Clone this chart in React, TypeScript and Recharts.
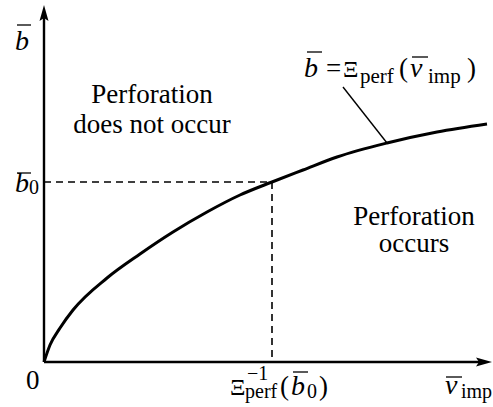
import { LineChart, Line, XAxis, YAxis, ReferenceLine, ReferenceDot } from "recharts";

// curve b = Xi_perf(v_imp) (1 unit ~ 1px)
const vImp = [0, 6, 16, 29, 63, 96, 129, 163, 196, 228, 259, 293, 343, 393, 443];
const bPerf = [0, 17, 34, 52, 84, 108, 130, 150, 167, 180, 192, 205, 219, 230, 238];

const vMax = 448;
const bMax = 357;
const b0 = 180;
const v0 = 228;
const leaderFrom = { x: 299, y: 275 };
const leaderTo = { x: 343, y: 219 };
const regionNoPerf = { x: 108, y: 259, lines: ["Perforation", "does not occur"] };
const regionPerf = { x: 370, y: 137, lines: ["Perforation", "occurs"] };

const data = vImp.map((v, i) => ({ v, b: bPerf[i] }));

const FONT = "Liberation Serif";
const INK = "#000";

const serifRef = (el: SVGTextElement | null) => {
  if (el) el.style.setProperty("font-family", FONT, "important");
};

const ArrowAxis = (props: any) => {
  const { x1, y1, x2, y2 } = props;
  const dx = x2 - x1;
  const dy = y2 - y1;
  const len = Math.hypot(dx, dy) || 1;
  const ux = dx / len;
  const uy = dy / len;
  const head = 16;
  const half = 4.5;
  const bx = x2 - ux * head;
  const by = y2 - uy * head;
  return (
    <g>
      <line x1={x1} y1={y1} x2={bx + ux * 3} y2={by + uy * 3} stroke={INK} strokeWidth={2.4} />
      <polygon
        points={`${x2},${y2} ${bx - uy * half},${by + ux * half} ${bx + ux * 3},${by + uy * 3} ${bx + uy * half},${by - ux * half}`}
        fill={INK}
      />
    </g>
  );
};

const T = ({ x, y, size = 27, italic = false, children }: any) => (
  <text
    ref={serifRef}
    x={x}
    y={y}
    fill={INK}
    fontFamily={FONT}
    fontSize={size}
    fontStyle={italic ? "italic" : "normal"}
  >
    {children}
  </text>
);

const Bar = ({ x1, x2, y }: any) => <line x1={x1} x2={x2} y1={y} y2={y} stroke={INK} strokeWidth={1.3} />;

const YTopLabel = ({ cx, cy }: any) => (
  <g>
    <T x={cx - 29} y={cy + 45} size={28} italic>b</T>
    <Bar x1={cx - 27} x2={cx - 13} y={cy + 20} />
  </g>
);

const B0Label = ({ cx, cy }: any) => (
  <g>
    <T x={cx - 29} y={cy + 10} size={28} italic>b</T>
    <Bar x1={cx - 27} x2={cx - 13} y={cy - 9} />
    <T x={cx - 15} y={cy + 12} size={20}>0</T>
  </g>
);

const OriginLabel = ({ cx, cy }: any) => (
  <T x={cx - 18} y={cy + 27}>0</T>
);

const XiInvLabel = ({ cx, cy }: any) => (
  <g>
    <T x={cx - 42} y={cy + 33} size={24}>Ξ</T>
    <T x={cx - 25} y={cy + 18} size={20}>−1</T>
    <T x={cx - 27} y={cy + 36} size={20}>perf</T>
    <T x={cx + 8} y={cy + 33}>(</T>
    <T x={cx + 19} y={cy + 33} size={28} italic>b</T>
    <Bar x1={cx + 21} x2={cx + 36} y={cy + 10} />
    <T x={cx + 35} y={cy + 36} size={20}>0</T>
    <T x={cx + 47} y={cy + 33}>)</T>
  </g>
);

const VImpLabel = ({ cx, cy }: any) => (
  <g>
    <T x={cx - 47} y={cy + 32} size={28} italic>v</T>
    <Bar x1={cx - 46} x2={cx - 30} y={cy + 15} />
    <T x={cx - 31} y={cy + 36} size={20}>imp</T>
  </g>
);

const EquationLabel = ({ cx, cy }: any) => (
  <g>
    <T x={cx - 39} y={cy - 10} size={28} italic>b</T>
    <Bar x1={cx - 36} x2={cx - 21} y={cy - 35} />
    <T x={cx - 17} y={cy - 10}>=</T>
    <T x={cx} y={cy - 10} size={24}>Ξ</T>
    <T x={cx + 17} y={cy - 4} size={21}>perf</T>
    <T x={cx + 56} y={cy - 10}>(</T>
    <T x={cx + 67} y={cy - 10} size={28} italic>v</T>
    <Bar x1={cx + 69} x2={cx + 85} y={cy - 30} />
    <T x={cx + 85} y={cy - 4} size={21}>imp</T>
    <T x={cx + 124} y={cy - 10}>)</T>
  </g>
);

const regionLabel = (lines: string[], gap: number) => ({ cx, cy }: any) => (
  <text ref={serifRef} x={cx} y={cy} fill={INK} textAnchor="middle" fontFamily={FONT} fontSize={27}>
    {lines.map((l, i) => (
      <tspan key={l} x={cx} dy={i === 0 ? 0 : gap}>
        {l}
      </tspan>
    ))}
  </text>
);

const App = () => (
  <div style={{ position: "absolute", left: 0, top: 0, background: "#fff" }}>
    <LineChart width={493} height={407} data={data} margin={{ top: 5, right: 1, bottom: 45, left: 44 }}>
      <XAxis dataKey="v" type="number" domain={[0, vMax]} hide />
      <YAxis type="number" domain={[0, bMax]} hide />
      <ReferenceLine
        segment={[{ x: 0, y: b0 }, { x: v0, y: b0 }]}
        stroke={INK}
        strokeWidth={1.6}
        strokeDasharray="7 5"
        ifOverflow="visible"
      />
      <ReferenceLine
        segment={[{ x: v0, y: b0 }, { x: v0, y: 0 }]}
        stroke={INK}
        strokeWidth={1.6}
        strokeDasharray="7 5"
        ifOverflow="visible"
      />
      <ReferenceLine segment={[leaderFrom, leaderTo]} stroke={INK} strokeWidth={1.4} ifOverflow="visible" />
      <Line
        type="monotone"
        dataKey="b"
        stroke={INK}
        strokeWidth={3}
        dot={false}
        activeDot={false}
        isAnimationActive={false}
      />
      <ReferenceLine segment={[{ x: 0, y: 0 }, { x: vMax, y: 0 }]} shape={ArrowAxis} ifOverflow="visible" />
      <ReferenceLine segment={[{ x: 0, y: 0 }, { x: 0, y: bMax }]} shape={ArrowAxis} ifOverflow="visible" />
      <ReferenceDot x={0} y={bMax} r={0} shape={YTopLabel} ifOverflow="visible" />
      <ReferenceDot x={0} y={b0} r={0} shape={B0Label} ifOverflow="visible" />
      <ReferenceDot x={0} y={0} r={0} shape={OriginLabel} ifOverflow="visible" />
      <ReferenceDot x={v0} y={0} r={0} shape={XiInvLabel} ifOverflow="visible" />
      <ReferenceDot x={vMax} y={0} r={0} shape={VImpLabel} ifOverflow="visible" />
      <ReferenceDot x={leaderFrom.x} y={leaderFrom.y} r={0} shape={EquationLabel} ifOverflow="visible" />
      <ReferenceDot
        x={regionNoPerf.x}
        y={regionNoPerf.y}
        r={0}
        shape={regionLabel(regionNoPerf.lines, 30)}
        ifOverflow="visible"
      />
      <ReferenceDot
        x={regionPerf.x}
        y={regionPerf.y}
        r={0}
        shape={regionLabel(regionPerf.lines, 27)}
        ifOverflow="visible"
      />
    </LineChart>
  </div>
);

export default App;
